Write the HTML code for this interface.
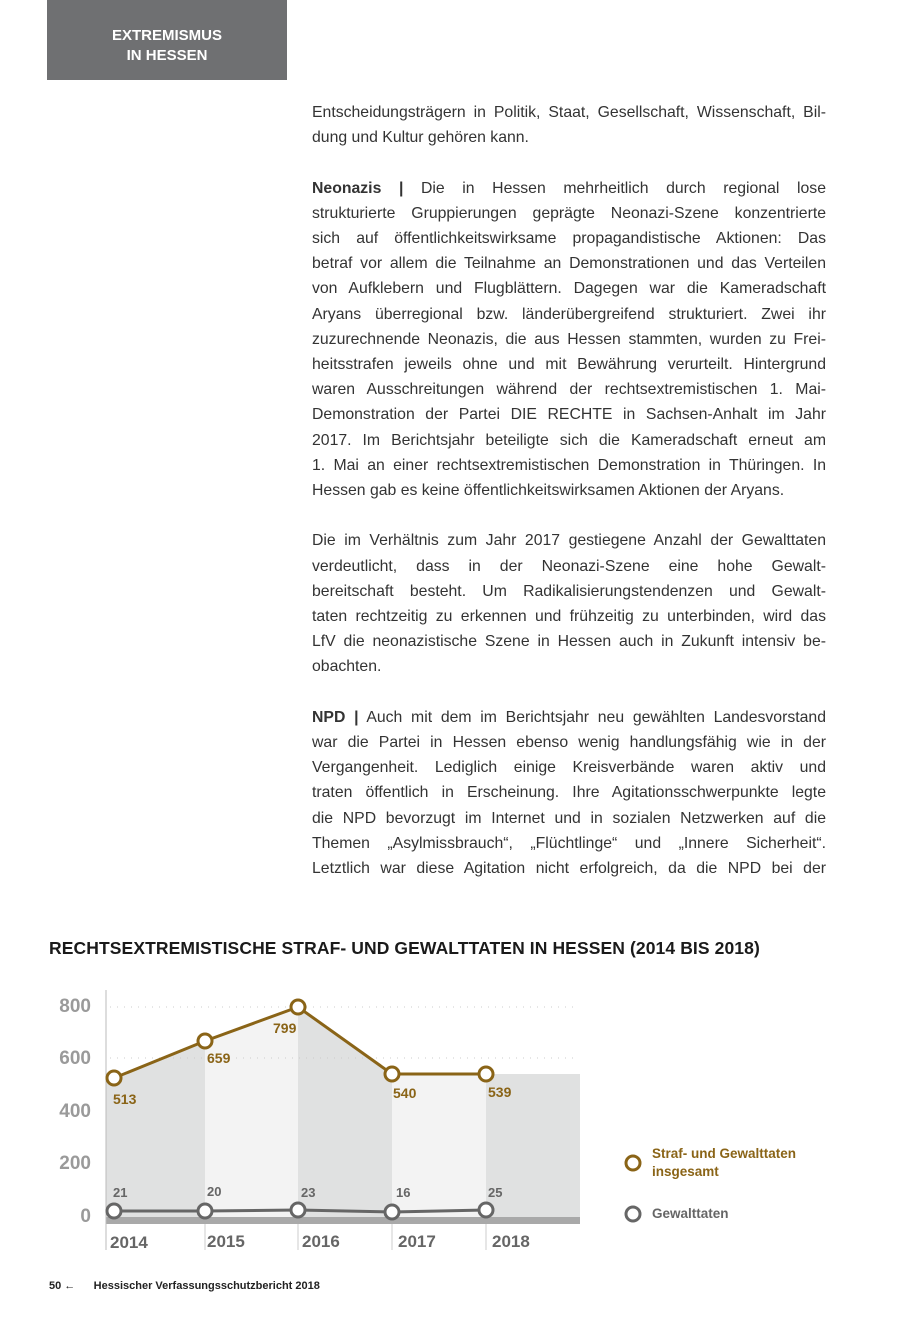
<!DOCTYPE html>
<html><head><meta charset="utf-8"><style>
body{margin:0;width:900px;height:1324px;background:#fff;position:relative;font-family:"Liberation Sans",sans-serif;color:#333}
.hdr{position:absolute;left:47px;top:0;width:240px;height:80px;background:#6f7072;color:#fff;font-weight:bold;font-size:15px;text-align:center;line-height:20px;padding-top:26px;box-sizing:border-box}
.txt{position:absolute;left:312px;top:100px;width:514px;font-size:15.8px;line-height:25.2px;color:#333}
.txt div{text-align:justify;text-align-last:justify;white-space:nowrap}
.txt div.l{text-align-last:left}
.txt .gap{height:25.2px}
.title{position:absolute;left:49px;top:938px;font-weight:bold;font-size:17.5px;color:#1a1a1a;letter-spacing:0.1px}
.foot{position:absolute;top:1280px;left:49px;font-size:11px;color:#222}
</style></head><body>
<div class="hdr">EXTREMISMUS<br>IN HESSEN</div>
<div class="txt">
<div>Entscheidungsträgern in Politik, Staat, Gesellschaft, Wissenschaft, Bil-</div>
<div class="l">dung und Kultur gehören kann.</div>
<div class="gap"></div>
<div><b>Neonazis |</b> Die in Hessen mehrheitlich durch regional lose</div>
<div>strukturierte Gruppierungen geprägte Neonazi-Szene konzentrierte</div>
<div>sich auf öffentlichkeitswirksame propagandistische Aktionen: Das</div>
<div>betraf vor allem die Teilnahme an Demonstrationen und das Verteilen</div>
<div>von Aufklebern und Flugblättern. Dagegen war die Kameradschaft</div>
<div>Aryans überregional bzw. länderübergreifend strukturiert. Zwei ihr</div>
<div>zuzurechnende Neonazis, die aus Hessen stammten, wurden zu Frei-</div>
<div>heitsstrafen jeweils ohne und mit Bewährung verurteilt. Hintergrund</div>
<div>waren Ausschreitungen während der rechtsextremistischen 1. Mai-</div>
<div>Demonstration der Partei DIE RECHTE in Sachsen-Anhalt im Jahr</div>
<div>2017. Im Berichtsjahr beteiligte sich die Kameradschaft erneut am</div>
<div>1. Mai an einer rechtsextremistischen Demonstration in Thüringen. In</div>
<div class="l">Hessen gab es keine öffentlichkeitswirksamen Aktionen der Aryans.</div>
<div class="gap"></div>
<div>Die im Verhältnis zum Jahr 2017 gestiegene Anzahl der Gewalttaten</div>
<div>verdeutlicht, dass in der Neonazi-Szene eine hohe Gewalt-</div>
<div>bereitschaft besteht. Um Radikalisierungstendenzen und Gewalt-</div>
<div>taten rechtzeitig zu erkennen und frühzeitig zu unterbinden, wird das</div>
<div>LfV die neonazistische Szene in Hessen auch in Zukunft intensiv be-</div>
<div class="l">obachten.</div>
<div class="gap"></div>
<div><b>NPD |</b> Auch mit dem im Berichtsjahr neu gewählten Landesvorstand</div>
<div>war die Partei in Hessen ebenso wenig handlungsfähig wie in der</div>
<div>Vergangenheit. Lediglich einige Kreisverbände waren aktiv und</div>
<div>traten öffentlich in Erscheinung. Ihre Agitationsschwerpunkte legte</div>
<div>die NPD bevorzugt im Internet und in sozialen Netzwerken auf die</div>
<div>Themen „Asylmissbrauch“, „Flüchtlinge“ und „Innere Sicherheit“.</div>
<div>Letztlich war diese Agitation nicht erfolgreich, da die NPD bei der</div>
</div>
<div class="title">RECHTSEXTREMISTISCHE STRAF- UND GEWALTTATEN IN HESSEN (2014 BIS 2018)</div>
<svg style="position:absolute;left:0;top:0" width="900" height="1324" font-family="Liberation Sans,sans-serif" font-weight="bold">
<polygon points="106,1080 114,1078 205,1041 205,1218 106,1218" fill="#e0e1e1"/>
<polygon points="205,1041 298,1007 298,1218 205,1218" fill="#f3f3f3"/>
<polygon points="298,1007 392,1074 392,1218 298,1218" fill="#e0e1e1"/>
<polygon points="392,1074 486,1074 486,1218 392,1218" fill="#f3f3f3"/>
<rect x="486" y="1074" width="94" height="144" fill="#e0e1e1"/>
<line x1="110" y1="1007" x2="578" y2="1007" stroke="#ccc" stroke-dasharray="1,6"/>
<line x1="110" y1="1058" x2="578" y2="1058" stroke="#ccc" stroke-dasharray="1,6"/>
<rect x="106" y="1217" width="474" height="7" fill="#a9a9a9"/>
<line x1="106" y1="990" x2="106" y2="1250" stroke="#bbb"/>
<g stroke="#ccc"><line x1="205" y1="1224" x2="205" y2="1250"/><line x1="298" y1="1224" x2="298" y2="1250"/><line x1="392" y1="1224" x2="392" y2="1250"/><line x1="486" y1="1224" x2="486" y2="1250"/></g>
<g fill="#9a9a9a" font-size="19" text-anchor="end"><text x="91" y="1012">800</text><text x="91" y="1064">600</text><text x="91" y="1117">400</text><text x="91" y="1169">200</text><text x="91" y="1222">0</text></g>
<g fill="#666" font-size="17"><text x="110" y="1248">2014</text><text x="207" y="1247">2015</text><text x="302" y="1247">2016</text><text x="398" y="1247">2017</text><text x="492" y="1247">2018</text></g>
<polyline points="114,1078 205,1041 298,1007 392,1074 486,1074" fill="none" stroke="#8a6417" stroke-width="3"/>
<g fill="#fff" stroke="#8a6417" stroke-width="3"><circle cx="114" cy="1078" r="7"/><circle cx="205" cy="1041" r="7"/><circle cx="298" cy="1007" r="7"/><circle cx="392" cy="1074" r="7"/><circle cx="486" cy="1074" r="7"/></g>
<g fill="#8a6417" font-size="14"><text x="113" y="1104">513</text><text x="207" y="1063">659</text><text x="273" y="1033">799</text><text x="393" y="1098">540</text><text x="488" y="1097">539</text></g>
<polyline points="114,1211 205,1211 298,1210 392,1212 486,1210" fill="none" stroke="#666" stroke-width="3"/>
<g fill="#fff" stroke="#666" stroke-width="3"><circle cx="114" cy="1211" r="7"/><circle cx="205" cy="1211" r="7"/><circle cx="298" cy="1210" r="7"/><circle cx="392" cy="1212" r="7"/><circle cx="486" cy="1210" r="7"/></g>
<g fill="#666" font-size="13"><text x="113" y="1197">21</text><text x="207" y="1196">20</text><text x="301" y="1197">23</text><text x="396" y="1197">16</text><text x="488" y="1197">25</text></g>
<circle cx="633" cy="1163" r="7" fill="none" stroke="#8a6417" stroke-width="3"/>
<circle cx="633" cy="1214" r="7" fill="none" stroke="#666" stroke-width="3"/>
<g font-size="13.5"><text x="652" y="1158" fill="#8a6417">Straf- und Gewalttaten</text><text x="652" y="1176" fill="#8a6417">insgesamt</text><text x="652" y="1218" fill="#666">Gewalttaten</text></g>
</svg>
<div class="foot"><b>50</b> ← &nbsp;&nbsp;&nbsp;&nbsp;&nbsp;<b>Hessischer Verfassungsschutzbericht 2018</b></div>
</body></html>
